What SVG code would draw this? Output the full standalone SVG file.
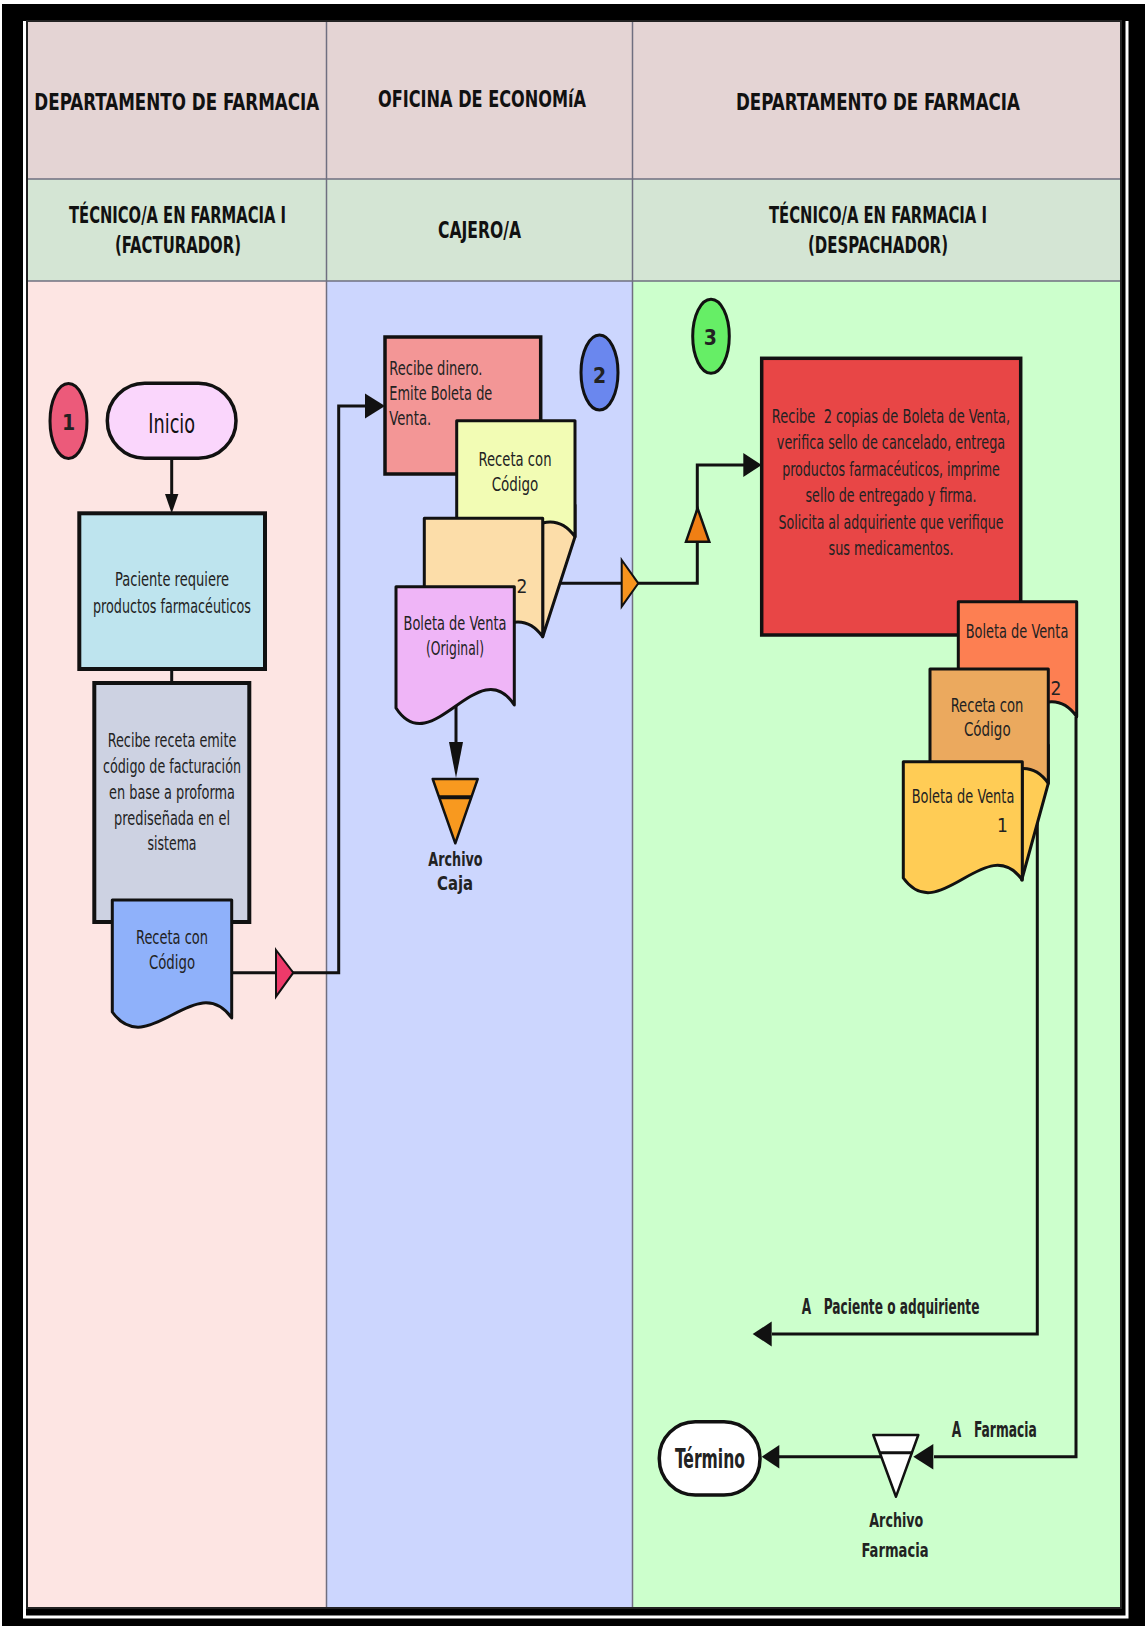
<svg xmlns="http://www.w3.org/2000/svg" width="1145" height="1626" viewBox="0 0 1145 1626">
<style>
.f{font-family:"Liberation Sans Narrow","DejaVu Sans Condensed","Liberation Sans",Arial,sans-serif;}
.hd{font-size:23px;font-weight:bold;fill:#111;text-anchor:middle}
.tx{font-size:19px;fill:#222;text-anchor:middle}
.txs{font-size:19px;fill:#222;text-anchor:start}
.lb{font-size:19px;font-weight:bold;fill:#222;text-anchor:middle}
.num{font-size:21px;font-weight:bold;fill:#222;text-anchor:middle}
.box{stroke:#111;stroke-width:4}
.doc{stroke:#111;stroke-width:3;stroke-linejoin:round}
.ln{fill:none;stroke:#111;stroke-width:3}
.ah{fill:#111}
.lane{stroke:#6f6f80;stroke-width:1.5;fill:none}
</style>
<rect x="0" y="0" width="1145" height="1626" fill="#ffffff"/>
<rect x="2" y="4" width="1143" height="1622" fill="#000"/>
<polyline points="24.5,21 24.5,1617 1127,1617 1127,21" fill="none" stroke="#fff" stroke-width="3"/>
<g id="lanes">
<rect x="27" y="21" width="1094" height="158" fill="#E4D4D4"/>
<rect x="27" y="179" width="1094" height="102" fill="#D4E5D4"/>
<rect x="27" y="281" width="299.5" height="1327" fill="#FDE5E3"/>
<rect x="326.5" y="281" width="306" height="1327" fill="#CCD6FE"/>
<rect x="632.5" y="281" width="488.5" height="1327" fill="#CCFFCC"/>
<line class="lane" x1="27" y1="179" x2="1121" y2="179"/>
<line class="lane" x1="27" y1="281" x2="1121" y2="281" stroke-width="2"/>
<line class="lane" x1="326.5" y1="21" x2="326.5" y2="1608"/>
<line class="lane" x1="632.5" y1="21" x2="632.5" y2="1608"/>
<rect x="27" y="21" width="1094" height="1587" fill="none" stroke="#222" stroke-width="2"/>
<text class="f hd" x="176.8" y="110" textLength="285" lengthAdjust="spacingAndGlyphs">DEPARTAMENTO DE FARMACIA</text>
<text class="f hd" x="482" y="107" textLength="208" lengthAdjust="spacingAndGlyphs">OFICINA DE ECONOMíA</text>
<text class="f hd" x="878" y="110" textLength="284" lengthAdjust="spacingAndGlyphs">DEPARTAMENTO DE FARMACIA</text>
<text class="f hd" x="177.5" y="222.5" textLength="217" lengthAdjust="spacingAndGlyphs">TÉCNICO/A EN FARMACIA I</text>
<text class="f hd" x="178" y="253" textLength="126" lengthAdjust="spacingAndGlyphs">(FACTURADOR)</text>
<text class="f hd" x="479.5" y="238" textLength="83" lengthAdjust="spacingAndGlyphs">CAJERO/A</text>
<text class="f hd" x="878" y="222.5" textLength="218" lengthAdjust="spacingAndGlyphs">TÉCNICO/A EN FARMACIA I</text>
<text class="f hd" x="878" y="253" textLength="140" lengthAdjust="spacingAndGlyphs">(DESPACHADOR)</text>
</g>
<g id="connectors">
<polyline class="ln" points="171.7,458.3 171.7,495"/>
<polygon class="ah" points="165,494 178.4,494 171.7,513.3"/>
<polyline class="ln" points="171.7,669 171.7,683"/>
<polyline class="ln" points="231.7,972.7 338.7,972.7 338.7,406 366,406"/>
<polygon class="ah" points="365,393.5 385,406 365,418.5"/>
<polygon points="276,950 293.3,972.7 276,996.7" fill="#EE3A6A" stroke="#111" stroke-width="2"/>
<polyline class="ln" points="560,583.3 697.3,583.3 697.3,465 744,465"/>
<polygon class="ah" points="743.3,453 761.7,465 743.3,477"/>
<polygon points="621.7,560 638.3,583.3 621.7,606.7" fill="#F7941E" stroke="#111" stroke-width="2"/>
<polygon points="686,541.7 709.3,541.7 697.6,508.3" fill="#F07F14" stroke="#111" stroke-width="2.5"/>
<polyline class="ln" points="456,705 456,743"/>
<polygon class="ah" points="449,742 463,742 456,778"/>
<polyline class="ln" stroke-width="2.5" points="1037.3,800 1037.3,1334 772,1334"/>
<polygon class="ah" points="771.7,1321.5 752.7,1334 771.7,1346.5"/>
<polyline class="ln" stroke-width="2.5" points="1076,716.7 1076,1456.7 934,1456.7"/>
<polygon class="ah" points="933.3,1444 913.3,1456.7 933.3,1469.4"/>
<polyline class="ln" points="881,1456.7 779,1456.7"/>
<polygon class="ah" points="779.3,1445 761.7,1456.7 779.3,1468.4"/>
</g>
<g id="n1-circle">
<ellipse cx="68.5" cy="421" rx="18.5" ry="37.5" fill="#EC5A7A" stroke="#111" stroke-width="3"/>
<text class="f num" x="68.5" y="430" font-weight="normal">1</text>
</g>
<g id="inicio">
<rect x="107.3" y="383.3" width="128.7" height="75" rx="37.5" fill="#FAD6FC" stroke="#111" stroke-width="3.5"/>
<text class="f tx" x="171.7" y="433" textLength="46.7" lengthAdjust="spacingAndGlyphs" style="font-size:27px;fill:#111">Inicio</text>
</g>
<g id="paciente">
<rect class="box" x="79.3" y="513.3" width="185.7" height="155.7" fill="#BEE4EE"/>
<text class="f tx" x="172" y="586" textLength="114" lengthAdjust="spacingAndGlyphs">Paciente requiere</text>
<text class="f tx" x="172" y="613" textLength="158" lengthAdjust="spacingAndGlyphs">productos farmacéuticos</text>
</g>
<g id="recibe-receta">
<rect class="box" x="94.3" y="683" width="155" height="239" fill="#CDD2E2"/>
<text class="f tx" x="172" y="746.7" textLength="128.7" lengthAdjust="spacingAndGlyphs">Recibe receta emite</text>
<text class="f tx" x="172" y="773" textLength="138" lengthAdjust="spacingAndGlyphs">código de facturación</text>
<text class="f tx" x="172" y="799" textLength="126" lengthAdjust="spacingAndGlyphs">en base a proforma</text>
<text class="f tx" x="172" y="825" textLength="116" lengthAdjust="spacingAndGlyphs">prediseñada en el</text>
<text class="f tx" x="172" y="850" textLength="49" lengthAdjust="spacingAndGlyphs">sistema</text>
</g>
<g id="doc-receta-1">
<path class="doc" d="M112.3,900 H231.7 V1018 C195.9,968 148.1,1062 112.3,1012 Z" fill="#8FB1FA"/>
<text class="f tx" x="172" y="944" textLength="72" lengthAdjust="spacingAndGlyphs">Receta con</text>
<text class="f tx" x="172" y="969" textLength="46" lengthAdjust="spacingAndGlyphs">Código</text>
</g>
<g id="recibe-dinero">
<rect x="385" y="337" width="155.7" height="137" fill="#F39696" stroke="#111" stroke-width="3.5"/>
<text class="f txs" x="389.3" y="375" textLength="93" lengthAdjust="spacingAndGlyphs">Recibe dinero.</text>
<text class="f txs" x="389.3" y="400" textLength="103" lengthAdjust="spacingAndGlyphs">Emite Boleta de</text>
<text class="f txs" x="389.3" y="425" textLength="42" lengthAdjust="spacingAndGlyphs">Venta.</text>
</g>
<g id="n2-circle">
<ellipse cx="599.5" cy="372.5" rx="18.5" ry="37.5" fill="#6A87EE" stroke="#111" stroke-width="3"/>
<text class="f num" x="599.5" y="383">2</text>
</g>
<g id="docs-caja">
<path class="doc" d="M542.7,505 H575 V536.7 L542.7,636.7 Z" fill="#FCDDA9"/>
<path class="doc" d="M456.7,420.7 H575 V536.7 C539.5,486.7 492.2,583.7 456.7,533.7 Z" fill="#F2FCB4"/>
<text class="f tx" x="515" y="466" textLength="73" lengthAdjust="spacingAndGlyphs">Receta con</text>
<text class="f tx" x="515" y="491" textLength="46.7" lengthAdjust="spacingAndGlyphs">Código</text>
<path class="doc" d="M424.3,518.3 H542.7 V636.7 C507.2,586.7 459.8,683.7 424.3,633.7 Z" fill="#FCDDA9"/>
<text class="f tx" x="522" y="593">2</text>
<path class="doc" d="M396,586.7 H514.3 V705 C478.8,650 431.5,763 396,708 Z" fill="#EFB5F7"/>
<text class="f tx" x="455" y="630" textLength="103" lengthAdjust="spacingAndGlyphs">Boleta de Venta</text>
<text class="f tx" x="455" y="655" textLength="58" lengthAdjust="spacingAndGlyphs">(Original)</text>
</g>
<g id="archivo-caja">
<polygon points="432.7,779 477.7,779 455.3,843.3" fill="#F8991F" stroke="#111" stroke-width="2.5" stroke-linejoin="round"/>
<line x1="439" y1="797.3" x2="471.6" y2="797.3" stroke="#111" stroke-width="4"/>
<text class="f lb" x="455.5" y="866" textLength="54.3" lengthAdjust="spacingAndGlyphs">Archivo</text>
<text class="f lb" x="455" y="890" textLength="36" lengthAdjust="spacingAndGlyphs">Caja</text>
</g>
<g id="n3-circle">
<ellipse cx="711" cy="336.3" rx="18.3" ry="37" fill="#66EE66" stroke="#111" stroke-width="3"/>
<text class="f num" x="710.3" y="345">3</text>
</g>
<g id="despacho">
<rect x="761.7" y="358.3" width="259" height="276.7" fill="#E84646" stroke="#111" stroke-width="3.5"/>
<text class="f tx" x="891" y="423.3" xml:space="preserve" textLength="238.3" lengthAdjust="spacingAndGlyphs">Recibe  2 copias de Boleta de Venta,</text>
<text class="f tx" x="891" y="449.3" textLength="228.3" lengthAdjust="spacingAndGlyphs">verifica sello de cancelado, entrega</text>
<text class="f tx" x="891" y="475.5" textLength="217.7" lengthAdjust="spacingAndGlyphs">productos farmacéuticos, imprime</text>
<text class="f tx" x="891" y="502" textLength="171" lengthAdjust="spacingAndGlyphs">sello de entregado y firma.</text>
<text class="f tx" x="891" y="528.5" textLength="225" lengthAdjust="spacingAndGlyphs">Solicita al adquiriente que verifique</text>
<text class="f tx" x="891" y="555" textLength="125" lengthAdjust="spacingAndGlyphs">sus medicamentos.</text>
</g>
<g id="docs-despacho">
<path class="doc" d="M958.3,601.7 H1076.7 V716.7 C1041.2,666.7 993.8,763 958.3,713 Z" fill="#FD7F52"/>
<text class="f tx" x="1017" y="638.3" textLength="102.7" lengthAdjust="spacingAndGlyphs">Boleta de Venta</text>
<text class="f tx" x="1056" y="695">2</text>
<path class="doc" d="M1022.3,745 H1048.3 V783.3 L1021.7,880 Z" fill="#FFCC55"/>
<path class="doc" d="M930,669 H1048.3 V783.3 C1012.8,733.3 965.5,830 930,780 Z" fill="#EBA95E"/>
<text class="f tx" x="987" y="711.7" textLength="72.7" lengthAdjust="spacingAndGlyphs">Receta con</text>
<text class="f tx" x="987.3" y="736" textLength="46.7" lengthAdjust="spacingAndGlyphs">Código</text>
<path class="doc" d="M903.3,761.7 H1022.3 V880 C986.6,830 939,928 903.3,878 Z" fill="#FFCC55"/>
<text class="f tx" x="963" y="802.7" textLength="102.7" lengthAdjust="spacingAndGlyphs">Boleta de Venta</text>
<text class="f tx" x="1002.5" y="831.7">1</text>
</g>
<g id="label-paciente">
<text class="f lb" x="801.7" y="1314" xml:space="preserve" style="font-size:22px;text-anchor:start" textLength="177.7" lengthAdjust="spacingAndGlyphs">A   Paciente o adquiriente</text>
</g>
<g id="label-farmacia">
<text class="f lb" x="951.7" y="1436.7" xml:space="preserve" style="font-size:22px;text-anchor:start" textLength="85" lengthAdjust="spacingAndGlyphs">A   Farmacia</text>
</g>
<g id="archivo-farmacia">
<polygon points="873.3,1435 918.3,1435 896,1496.7" fill="#fff" stroke="#111" stroke-width="2.5" stroke-linejoin="round"/>
<line x1="879.5" y1="1452.7" x2="912.5" y2="1452.7" stroke="#111" stroke-width="3"/>
<text class="f lb" x="896.3" y="1526.7" textLength="54" lengthAdjust="spacingAndGlyphs">Archivo</text>
<text class="f lb" x="895" y="1556.7" textLength="67" lengthAdjust="spacingAndGlyphs">Farmacia</text>
</g>
<g id="termino">
<rect x="659.3" y="1421.7" width="100.7" height="73.3" rx="36" fill="#fff" stroke="#111" stroke-width="3.5"/>
<text class="f lb" x="710" y="1468" style="font-size:27px" textLength="70" lengthAdjust="spacingAndGlyphs">Término</text>
</g>
</svg>
